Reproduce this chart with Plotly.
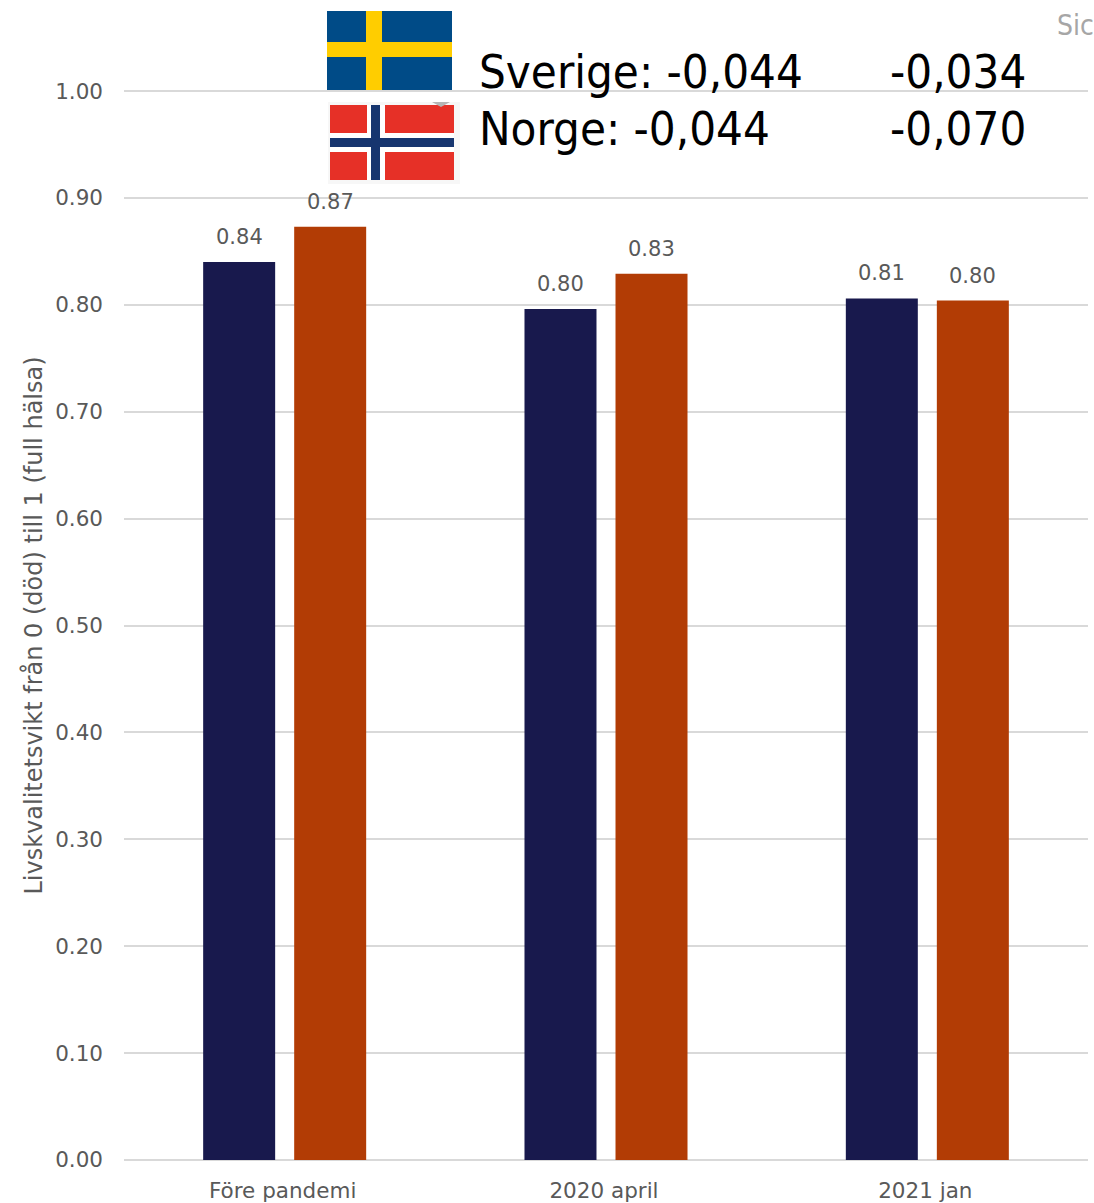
import plotly.graph_objects as go

categories = ["Före pandemi", "2020 april", "2021 jan"]
sverige = [0.840, 0.796, 0.806]
norge = [0.873, 0.829, 0.804]
y_ticks = [0.0, 0.1, 0.2, 0.3, 0.4, 0.5, 0.6, 0.7, 0.8, 0.9, 1.0]
y_title = "Livskvalitetsvikt från 0 (död) till 1 (full hälsa)"
legend_rows = [("Sverige: -0,044", "-0,034"), ("Norge: -0,044", "-0,070")]

W, H = 1094, 1203
L, R, T, B = 124, 6, 90, 42
FONT = "DejaVu Sans"
BIG = "DejaVu Sans Condensed"
GREY = "#595959"


def px(x):
    return (x - L) / (W - L - R)


def py(y):
    return 1 - (y - T) / (H - T - B)


def rect(x0, y0, x1, y1, color):
    return dict(type="rect", xref="paper", yref="paper", x0=px(x0), x1=px(x1),
                y0=py(y1), y1=py(y0), fillcolor=color, line_width=0, layer="above")


fig = go.Figure()
fig.add_bar(x=categories, y=sverige, name="Sverige", marker_color="#18194d", marker_line_width=0)
fig.add_bar(x=categories, y=norge, name="Norge", marker_color="#b23c05", marker_line_width=0)

annotations = []
for series, shift in ((sverige, -45.5), (norge, 45.5)):
    for c, v in zip(categories, series):
        annotations.append(dict(x=c, y=v, xref="x", yref="y", text=f"{v:.2f}", showarrow=False,
                                xshift=shift, yshift=25, xanchor="center", yanchor="middle",
                                font=dict(family=FONT, size=21, color=GREY)))

row_y = [71, 129]
for (a, b), yy in zip(legend_rows, row_y):
    annotations.append(dict(x=px(479), y=py(yy), xref="paper", yref="paper", text=a, showarrow=False,
                            xanchor="left", yanchor="middle", xshift=-2,
                            font=dict(family=BIG, size=47, color="#000000")))
    annotations.append(dict(x=px(889), y=py(yy), xref="paper", yref="paper", text=b, showarrow=False,
                            xanchor="left", yanchor="middle", xshift=-1,
                            font=dict(family=BIG, size=47, color="#000000")))
annotations.append(dict(x=px(1055), y=py(26), xref="paper", yref="paper", text="Sic", showarrow=False,
                        xanchor="left", yanchor="middle",
                        font=dict(family=BIG, size=28, color="#a6a6a6")))

shapes = [
    # Swedish flag
    rect(327, 11, 452, 90, "#004b87"),
    rect(366, 11, 382, 90, "#ffcd00"),
    rect(327, 42, 452, 57, "#ffcd00"),
    # Norwegian flag
    rect(328, 102, 460, 184, "#f7f7f7"),
    rect(330, 105, 454, 180, "#e63027"),
    rect(367, 105, 385, 180, "#ffffff"),
    rect(330, 133, 454, 152, "#ffffff"),
    rect(371, 105, 380, 180, "#16356f"),
    rect(330, 138, 454, 147, "#16356f"),
    dict(type="path", xref="paper", yref="paper", layer="above", line_width=0, fillcolor="#b5b5b5",
         path=f"M {px(432)} {py(102)} L {px(450)} {py(102)} L {px(441)} {py(107)} Z"),
]

fig.update_layout(
    width=W, height=H, margin=dict(l=L, r=R, t=T, b=B, autoexpand=False),
    paper_bgcolor="#ffffff", plot_bgcolor="#ffffff", showlegend=False,
    barmode="group", bargap=0.4335, bargroupgap=0.209,
    font=dict(family=FONT, color=GREY, size=21),
    annotations=annotations, shapes=shapes,
)
fig.update_xaxes(showgrid=False, showline=False, ticks="", tickfont=dict(size=21.5, color=GREY, family=FONT),
                 zeroline=False, automargin=False, ticklabelstandoff=14, ticklabelshift=-2)
fig.update_yaxes(range=[-0.001, 1.001], tickvals=y_ticks, tickformat=".2f", gridcolor="#d9d9d9", gridwidth=2,
                 zeroline=False, showline=False, ticks="", ticklabelstandoff=20,
                 tickfont=dict(size=21.5, color=GREY, family=FONT), automargin=False,
                 title=dict(text=y_title, font=dict(size=24, color=GREY, family=FONT), standoff=5))

fig.write_html("out.html", post_script="document.body.style.margin='0';",
               config={"displayModeBar": False})
